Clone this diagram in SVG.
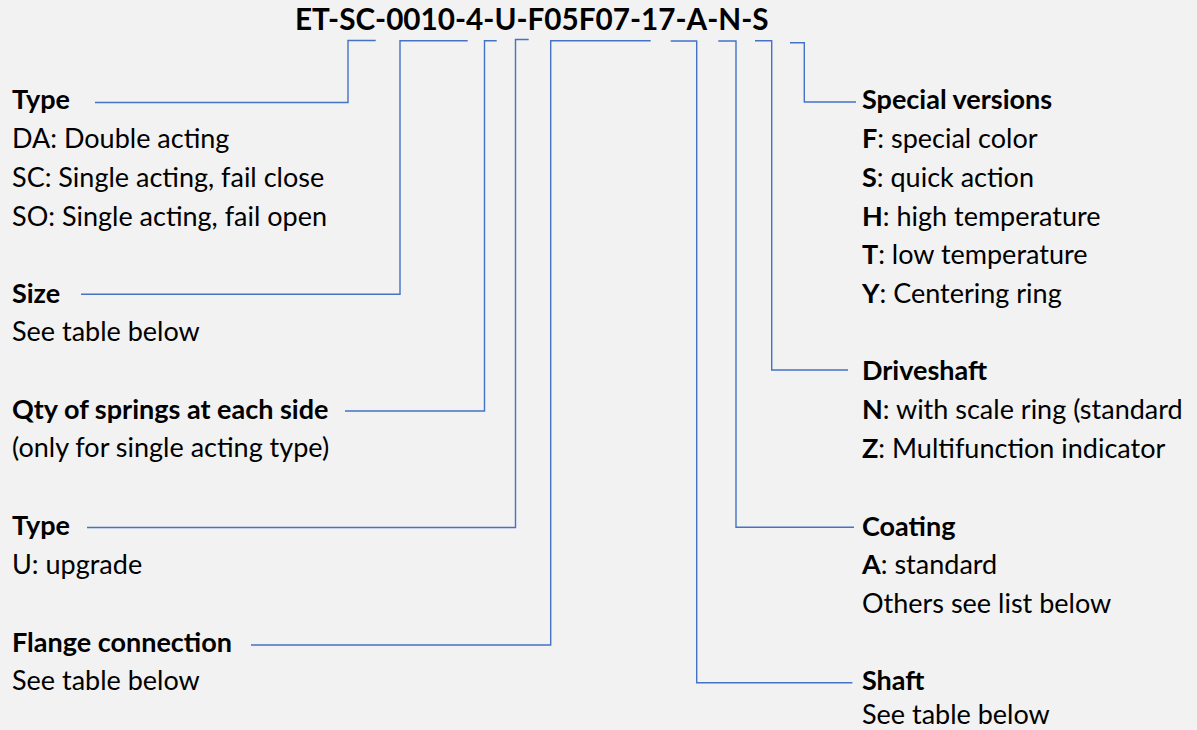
<svg xmlns="http://www.w3.org/2000/svg" width="1197" height="730" viewBox="0 0 1197 730">
<style>
text{font-family:Lato,"Liberation Sans",sans-serif;font-size:27px;fill:#000}
.b{font-weight:bold}
.title{font-size:29.7px;font-weight:bold}
.c{fill:none;stroke:#4472C4;stroke-width:1.4}
</style>
<rect width="1197" height="730" fill="#F2F2F2"/>
<g id="title"><text class="title" x="295" y="30">ET-SC-0010-4-U-F05F07-17-A-N-S</text></g>
<g id="connectors">
<path class="c" d="M375.7,40.5H348V102.5H95"/>
<path class="c" d="M467.7,40.7H400V294.3H81"/>
<path class="c" d="M496.7,40.7H484.5V411H345"/>
<path class="c" d="M528.7,39.5H515.5V527.5H87"/>
<path class="c" d="M650.7,40.7H550.7V645H251"/>
<path class="c" d="M670.7,41H696.7V682.7H852.4"/>
<path class="c" d="M718.3,41H736V527.3H854"/>
<path class="c" d="M755,40.7H771.7V370H848"/>
<path class="c" d="M790,42.7H804.3V102H856"/>
</g>
<g id="type">
<text class="b" x="12" y="109">Type</text>
<text x="12" y="148">DA: Double acting</text>
<text x="12" y="187">SC: Single acting, fail close</text>
<text x="12" y="226">SO: Single acting, fail open</text>
</g>
<g id="size">
<text class="b" x="12" y="303">Size</text>
<text x="12" y="341">See table below</text>
</g>
<g id="qty">
<text class="b" x="12" y="419">Qty of springs at each side</text>
<text x="12" y="457">(only for single acting type)</text>
</g>
<g id="type-u">
<text class="b" x="12" y="535">Type</text>
<text x="12" y="574">U: upgrade</text>
</g>
<g id="flange">
<text class="b" x="12" y="652">Flange connection</text>
<text x="12" y="690">See table below</text>
</g>
<g id="special">
<text class="b" x="862" y="109">Special versions</text>
<text x="862" y="148"><tspan class="b">F</tspan>: special color</text>
<text x="862" y="187"><tspan class="b">S</tspan>: quick action</text>
<text x="862" y="226"><tspan class="b">H</tspan>: high temperature</text>
<text x="862" y="264"><tspan class="b">T</tspan>: low temperature</text>
<text x="862" y="303"><tspan class="b">Y</tspan>: Centering ring</text>
</g>
<g id="driveshaft">
<text class="b" x="862" y="380">Driveshaft</text>
<text x="862" y="419"><tspan class="b">N</tspan>: with scale ring (standard</text>
<text x="862" y="458"><tspan class="b">Z</tspan>: Multifunction indicator</text>
</g>
<g id="coating">
<text class="b" x="862" y="536">Coating</text>
<text x="862" y="574"><tspan class="b">A</tspan>: standard</text>
<text x="862" y="613">Others see list below</text>
</g>
<g id="shaft">
<text class="b" x="862" y="690">Shaft</text>
<text x="862" y="724">See table below</text>
</g>
</svg>
